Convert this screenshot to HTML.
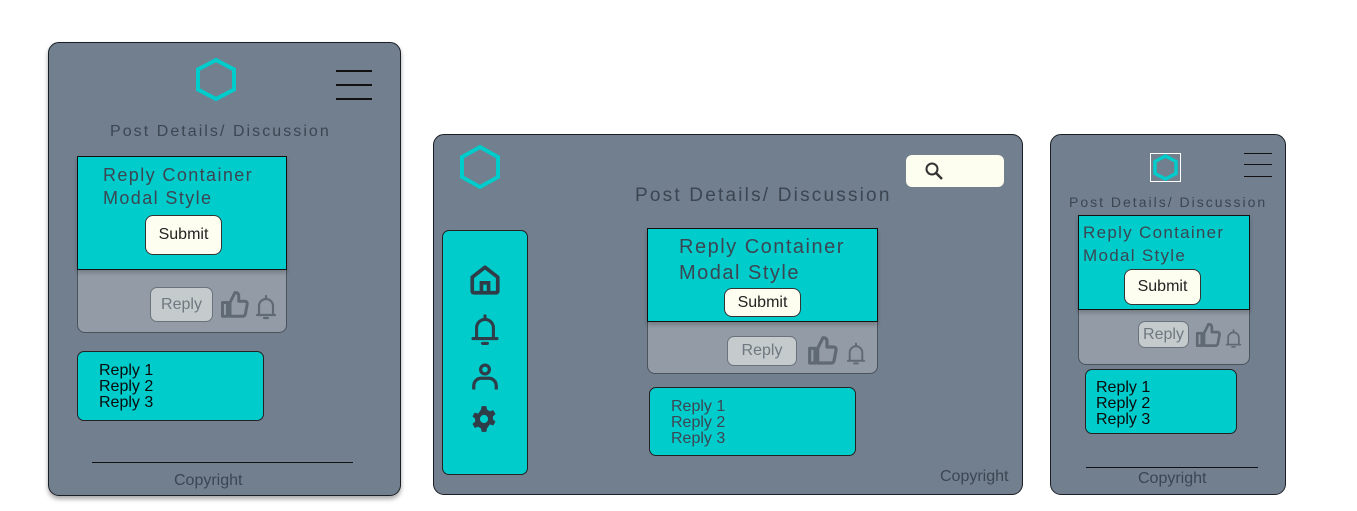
<!DOCTYPE html>
<html><head><meta charset="utf-8"><style>
*{margin:0;padding:0;box-sizing:border-box}
body{width:1357px;height:511px;background:#fff;position:relative;overflow:hidden;font-family:"Liberation Sans",sans-serif}
.a{position:absolute}
.frame{background:#717f8f;border:1px solid #1a1f24;border-radius:11px}
.cy{background:#00cccc}
.t{color:#3b4652;letter-spacing:1.2px;white-space:nowrap}
.sub{background:#fdfdf0;border:1px solid #333;border-radius:8px;display:flex;align-items:center;justify-content:center;color:#222;font-size:16px}
.rb{background:#c5cbcc;border:1px solid #6a737c;border-radius:7px;display:flex;align-items:center;justify-content:center;color:#6f7880;font-size:16px}
.card{background:#939ca6;border:1px solid #4a535c;border-radius:8px;overflow:hidden}
.ln{height:1.5px;background:#111}
</style></head><body>

<!-- Frame 1 -->
<div class="a frame" style="left:48px;top:42px;width:353px;height:454px;box-shadow:0 3px 5px rgba(0,0,0,.35)"></div>
<svg class="a" style="left:195px;top:57px" width="42" height="45" viewBox="0 0 42 45"><polygon points="21,3 39,12.5 39,32.5 21,42 3,32.5 3,12.5" fill="none" stroke="#00cccc" stroke-width="4"/></svg>
<div class="a ln" style="left:336px;top:70px;width:36px"></div>
<div class="a ln" style="left:336px;top:84px;width:36px"></div>
<div class="a ln" style="left:336px;top:98px;width:36px"></div>
<div class="a t" style="left:110px;top:123px;font-size:16px;letter-spacing:2.05px">Post Details/ Discussion</div>
<div class="a card" style="left:77px;top:156px;width:210px;height:177px"></div>
<div class="a cy" style="left:77px;top:156px;width:210px;height:114px;border:1.5px solid #111;box-shadow:0 3px 4px rgba(0,0,0,.2)"></div>
<div class="a t" style="left:103px;top:164px;font-size:18px;line-height:23px;letter-spacing:1.4px">Reply Container<br>Modal Style</div>
<div class="a sub" style="left:145px;top:215px;width:77px;height:40px">Submit</div>
<div class="a rb" style="left:150px;top:287px;width:63px;height:35px">Reply</div>
<svg class="a" style="left:220px;top:290px" width="30" height="30" viewBox="0 0 24 24"><path d="M2 10h4v11H2zM8 10l4-8c2 0 3 1 3 3v4h5c1.2 0 2 1 1.8 2.2l-1.5 8c-.2 1-1 1.8-2 1.8H8z" fill="none" stroke="#5f6a74" stroke-width="2.4" stroke-linejoin="round"/></svg>
<svg class="a" style="left:254px;top:292px" width="24" height="30" viewBox="0 0 24 30"><path d="M5 23V14a7 7 0 0 1 14 0v9M3 23h18M12 4v3M10 26h4" fill="none" stroke="#5f6a74" stroke-width="2.2" stroke-linecap="round"/></svg>
<div class="a cy" style="left:77px;top:351px;width:187px;height:70px;border:1px solid #222;border-radius:7px"></div>
<div class="a" style="left:99px;top:363px;font-size:16px;line-height:16px;color:#0a0a0a">Reply 1<br>Reply 2<br>Reply 3</div>
<div class="a ln" style="left:92px;top:462px;width:261px;height:1px"></div>
<div class="a" style="left:174px;top:472px;font-size:16px;color:#3b4652">Copyright</div>

<!-- Frame 2 -->
<div class="a frame" style="left:433px;top:134px;width:590px;height:361px"></div>
<svg class="a" style="left:458px;top:144px" width="44" height="46" viewBox="0 0 44 46"><polygon points="22,3 40,13 40,33 22,43 4,33 4,13" fill="none" stroke="#00cccc" stroke-width="4"/></svg>
<div class="a" style="left:906px;top:155px;width:98px;height:32px;background:#fdfdf0;border-radius:6px"></div>
<svg class="a" style="left:924px;top:161px" width="20" height="20" viewBox="0 0 20 20"><circle cx="8" cy="8" r="5.5" fill="none" stroke="#333" stroke-width="2"/><path d="M12 12l6 6" stroke="#333" stroke-width="2.4"/></svg>
<div class="a t" style="left:635px;top:185px;font-size:19px;letter-spacing:2.2px">Post Details/ Discussion</div>
<div class="a cy" style="left:442px;top:230px;width:86px;height:245px;border:1px solid #222;border-radius:7px"></div>
<svg class="a" style="left:468px;top:263px" width="34" height="34" viewBox="0 0 24 24"><path d="M3 10l9-7 9 7v10a1 1 0 0 1-1 1H4a1 1 0 0 1-1-1z" fill="none" stroke="#2f3d48" stroke-width="2.6" stroke-linejoin="round"/><path d="M9.5 21v-7h5v7" fill="none" stroke="#2f3d48" stroke-width="2.6"/></svg>
<svg class="a" style="left:470px;top:311px" width="30" height="36" viewBox="0 0 24 30"><path d="M5 23V14a7 7 0 0 1 14 0v9M2 23h20M12 4v3M10 27h4" fill="none" stroke="#2f3d48" stroke-width="2.6" stroke-linecap="round"/></svg>
<svg class="a" style="left:470px;top:362px" width="30" height="30" viewBox="0 0 24 24"><circle cx="12" cy="6" r="3.5" fill="none" stroke="#2f3d48" stroke-width="2.6"/><path d="M3 22v-3a6 6 0 0 1 6-6h6a6 6 0 0 1 6 6v3" fill="none" stroke="#2f3d48" stroke-width="2.6"/></svg>
<svg class="a" style="left:470px;top:405px" width="28" height="28" viewBox="0 0 24 24"><path fill="#2f3d48" fill-rule="evenodd" d="M10 1h4l.6 3 2.4 1.4 2.9-1 2 3.4-2.3 2a7 7 0 0 1 0 2.4l2.3 2-2 3.4-2.9-1L14.6 20 14 23h-4l-.6-3L7 18.6l-2.9 1-2-3.4 2.3-2a7 7 0 0 1 0-2.4l-2.3-2 2-3.4 2.9 1L9.4 4zM12 8.5a3.5 3.5 0 1 0 0 7 3.5 3.5 0 0 0 0-7z"/></svg>
<div class="a card" style="left:647px;top:228px;width:231px;height:146px"></div>
<div class="a cy" style="left:647px;top:228px;width:231px;height:94px;border:1.5px solid #111;box-shadow:0 3px 4px rgba(0,0,0,.2)"></div>
<div class="a t" style="left:679px;top:234px;font-size:20px;line-height:26px;letter-spacing:1.5px">Reply Container<br>Modal Style</div>
<div class="a sub" style="left:724px;top:288px;width:77px;height:29px">Submit</div>
<div class="a rb" style="left:727px;top:336px;width:70px;height:30px">Reply</div>
<svg class="a" style="left:806px;top:335px" width="34" height="32" viewBox="0 0 24 24"><path d="M2 10h4v11H2zM8 10l4-8c2 0 3 1 3 3v4h5c1.2 0 2 1 1.8 2.2l-1.5 8c-.2 1-1 1.8-2 1.8H8z" fill="none" stroke="#5f6a74" stroke-width="2.4" stroke-linejoin="round"/></svg>
<svg class="a" style="left:844px;top:340px" width="24" height="27" viewBox="0 0 24 30"><path d="M5 23V14a7 7 0 0 1 14 0v9M3 23h18M12 4v3M10 26h4" fill="none" stroke="#5f6a74" stroke-width="2.2" stroke-linecap="round"/></svg>
<div class="a cy" style="left:649px;top:387px;width:207px;height:69px;border:1px solid #222;border-radius:7px"></div>
<div class="a" style="left:671px;top:399px;font-size:16px;line-height:16px;color:#3b4652">Reply 1<br>Reply 2<br>Reply 3</div>
<div class="a" style="left:940px;top:468px;font-size:16px;color:#3b4652">Copyright</div>

<!-- Frame 3 -->
<div class="a frame" style="left:1050px;top:134px;width:236px;height:361px"></div>
<div class="a" style="left:1150px;top:153px;width:31px;height:29px;border:1px solid #fff"></div>
<svg class="a" style="left:1151px;top:154px" width="29" height="27" viewBox="0 0 29 27"><polygon points="14.5,2 25,7.5 25,19.5 14.5,25 4,19.5 4,7.5" fill="none" stroke="#00cccc" stroke-width="3.5"/></svg>
<div class="a ln" style="left:1244px;top:153px;width:28px;height:1px"></div>
<div class="a ln" style="left:1244px;top:164px;width:28px;height:1px"></div>
<div class="a ln" style="left:1244px;top:176px;width:28px;height:1px"></div>
<div class="a t" style="left:1069px;top:194px;font-size:14px;letter-spacing:2.0px">Post Details/ Discussion</div>
<div class="a card" style="left:1078px;top:215px;width:172px;height:150px"></div>
<div class="a cy" style="left:1078px;top:215px;width:172px;height:95px;border:1.5px solid #111;box-shadow:0 3px 4px rgba(0,0,0,.2)"></div>
<div class="a t" style="left:1083px;top:221px;font-size:17px;line-height:23px;letter-spacing:1.3px">Reply Container<br>Modal Style</div>
<div class="a sub" style="left:1124px;top:269px;width:77px;height:36px">Submit</div>
<div class="a rb" style="left:1138px;top:321px;width:51px;height:27px">Reply</div>
<svg class="a" style="left:1195px;top:322px" width="27" height="27" viewBox="0 0 24 24"><path d="M2 10h4v11H2zM8 10l4-8c2 0 3 1 3 3v4h5c1.2 0 2 1 1.8 2.2l-1.5 8c-.2 1-1 1.8-2 1.8H8z" fill="none" stroke="#5f6a74" stroke-width="2.4" stroke-linejoin="round"/></svg>
<svg class="a" style="left:1224px;top:327px" width="19" height="23" viewBox="0 0 24 30"><path d="M5 23V14a7 7 0 0 1 14 0v9M3 23h18M12 4v3M10 26h4" fill="none" stroke="#5f6a74" stroke-width="2.2" stroke-linecap="round"/></svg>
<div class="a cy" style="left:1085px;top:369px;width:152px;height:65px;border:1px solid #222;border-radius:7px"></div>
<div class="a" style="left:1096px;top:380px;font-size:16px;line-height:16px;color:#0a0a0a">Reply 1<br>Reply 2<br>Reply 3</div>
<div class="a ln" style="left:1086px;top:467px;width:172px;height:1px"></div>
<div class="a" style="left:1138px;top:470px;font-size:16px;color:#3b4652">Copyright</div>

</body></html>
